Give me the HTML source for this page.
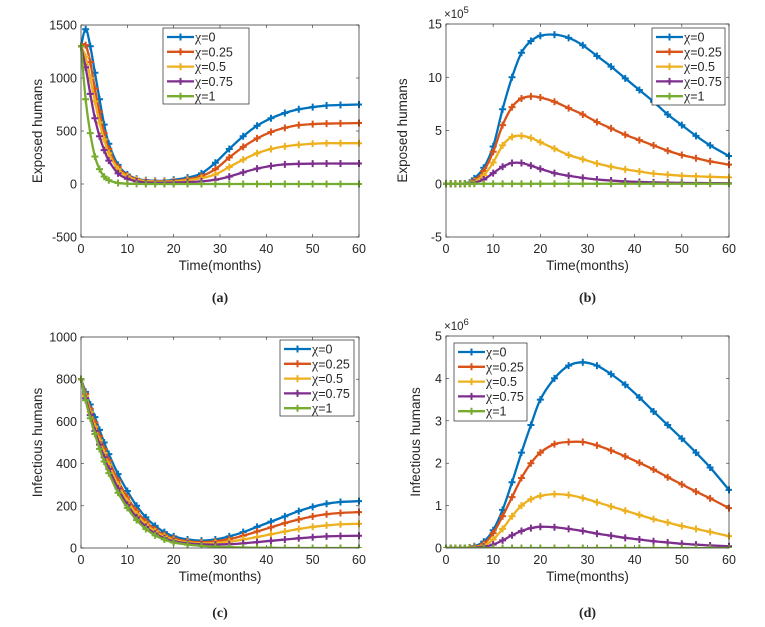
<!DOCTYPE html>
<html><head><meta charset="utf-8">
<style>
body{margin:0;background:#fff;width:765px;height:622px;overflow:hidden}
svg text{font-family:"Liberation Sans",sans-serif;fill:#262626}
</style></head>
<body>
<svg id="fig" width="765" height="622" xmlns="http://www.w3.org/2000/svg"></svg>
<script>
const times=[0,1,2,3,4,5,6,8,10,12,14,16,18,20,23,26,29,32,35,38,41,44,47,50,53,56,60];
const seriesLabels=["χ=0","χ=0.25","χ=0.5","χ=0.75","χ=1"];
const colors=["#0072BD","#D95319","#EDB120","#7E2F8E","#77AC30"];
// Panel a: Exposed humans
const aX0=[1300,1460,1300,1050,800,560,380,180,90,50,35,30,30,40,60,100,200,330,450,550,620,670,705,725,740,745,750];
const aX25=[1300,1310,1150,900,680,480,330,160,80,45,30,25,25,30,45,75,140,250,350,430,490,530,555,565,570,572,575];
const aX50=[1300,1200,1000,780,580,420,290,140,70,40,28,22,22,25,35,55,90,160,230,290,330,355,370,380,385,385,385];
const aX75=[1300,1100,850,620,450,320,220,100,50,25,15,12,12,14,18,25,40,70,110,145,170,185,190,192,193,193,193];
const aX100=[1300,800,480,260,140,70,35,10,3,1,0,0,0,0,0,0,0,0,0,0,0,0,0,0,0,0,0];
// Panel b: Exposed humans (x1e5)
const bX0=[0,0,0,0,0,0.1,0.5,1.5,3.5,7,10,12.3,13.4,13.9,14,13.7,13,12,11,9.9,8.8,7.7,6.5,5.5,4.5,3.6,2.6];
const bX25=[0,0,0,0,0,0.05,0.3,1.2,3,5.5,7.2,8,8.2,8.1,7.7,7.1,6.5,5.8,5.2,4.6,4.1,3.6,3.1,2.7,2.4,2.1,1.8];
const bX50=[0,0,0,0,0,0.03,0.2,0.8,2,3.6,4.4,4.5,4.3,3.9,3.3,2.7,2.3,1.9,1.6,1.35,1.15,0.95,0.85,0.75,0.7,0.65,0.6];
const bX75=[0,0,0,0,0,0.02,0.1,0.4,1,1.6,1.95,1.95,1.7,1.4,1,0.75,0.55,0.4,0.3,0.22,0.17,0.13,0.1,0.08,0.07,0.06,0.05];
const bX100=[0,0,0,0,0,0,0,0,0,0,0,0,0,0,0,0,0,0,0,0,0,0,0,0,0,0,0];
// Panel c: Infectious humans
const cX0=[800,740,680,620,560,500,445,350,270,200,145,105,75,55,40,35,40,55,75,100,125,150,175,195,210,218,222];
const cX25=[800,730,660,595,530,470,415,320,240,175,125,88,62,45,32,28,32,42,58,78,98,118,135,150,160,166,170];
const cX50=[800,720,645,575,510,450,395,300,222,160,112,78,55,38,27,22,24,30,40,52,65,78,90,100,107,112,115];
const cX75=[800,710,630,555,490,430,375,282,205,145,100,68,46,32,22,17,16,18,22,28,34,40,46,51,55,57,58];
const cX100=[800,700,615,540,470,410,355,262,190,132,90,60,40,26,16,10,6,4,2,1,1,0,0,0,0,0,0];
// Panel d: Infectious humans (x1e6)
const dX0=[0,0,0,0,0,0.01,0.04,0.15,0.42,0.9,1.55,2.25,2.9,3.5,4,4.3,4.38,4.3,4.1,3.85,3.55,3.22,2.9,2.58,2.25,1.9,1.37];
const dX25=[0,0,0,0,0,0.01,0.03,0.1,0.35,0.75,1.2,1.65,2,2.25,2.45,2.5,2.5,2.42,2.3,2.16,2.01,1.85,1.67,1.5,1.33,1.17,0.94];
const dX50=[0,0,0,0,0,0,0.02,0.06,0.2,0.45,0.75,1,1.15,1.23,1.27,1.25,1.18,1.08,0.98,0.88,0.78,0.68,0.6,0.52,0.45,0.38,0.28];
const dX75=[0,0,0,0,0,0,0.01,0.03,0.08,0.18,0.3,0.4,0.47,0.5,0.49,0.45,0.4,0.34,0.29,0.24,0.2,0.16,0.13,0.1,0.08,0.06,0.04];
const dX100=[0,0,0,0,0,0,0,0,0,0,0,0,0,0,0,0,0,0,0,0,0,0,0,0,0,0,0];
const xTicks=[0,10,20,30,40,50,60];
const aTicks=[-500,0,500,1000,1500];
const bTicks=[-5,0,5,10,15];
const cTicks=[0,200,400,600,800,1000];
const dTicks=[0,1,2,3,4,5];

const NS="http://www.w3.org/2000/svg";
const svg=document.getElementById('fig');
function mk(tag,attrs,parent){const e=document.createElementNS(NS,tag);for(const k in attrs)e.setAttribute(k,attrs[k]);(parent||svg).appendChild(e);return e;}

function panel(cfg){
  const g=mk('g',{});
  
  
  const {L,R,T,B,ymin,ymax}=cfg;
  const sx=v=>L+(v-0)/(60-0)*(R-L);
  const sy=v=>B-(v-ymin)/(ymax-ymin)*(B-T);
  const clip='clip-'+cfg.id;
  const cp=mk('clipPath',{id:clip},g);mk('rect',{x:L-3,y:T,width:R-L+6,height:B-T},cp);
  xTicks.forEach(t=>{
    mk('line',{x1:sx(t),x2:sx(t),y1:B,y2:B-3,stroke:'#262626','stroke-width':0.6},g);
    mk('line',{x1:sx(t),x2:sx(t),y1:T,y2:T+3,stroke:'#262626','stroke-width':0.6},g);
    const tx=mk('text',{x:sx(t),y:B+16,'font-size':12.5,'text-anchor':'middle'},g);tx.textContent=t;
    
    
  });
  cfg.ticks.forEach(t=>{
    mk('line',{x1:L,x2:L+3,y1:sy(t),y2:sy(t),stroke:'#262626','stroke-width':0.6},g);
    mk('line',{x1:R,x2:R-3,y1:sy(t),y2:sy(t),stroke:'#262626','stroke-width':0.6},g);
    const tx=mk('text',{x:L-4,y:sy(t)+4.5,'font-size':12.5,'text-anchor':'end'},g);tx.textContent=t;
    
    
  });
  cfg.series.forEach((arr,i)=>{
    const sg=mk('g',{'clip-path':'url(#'+clip+')'},g);
    
    
    const pts=times.map((t,j)=>[sx(t),sy(arr[j])]);
    let d='M'+pts[0][0]+','+pts[0][1];
    for(let j=0;j<pts.length-1;j++){
      const p0=pts[j-1]||pts[j],p1=pts[j],p2=pts[j+1],p3=pts[j+2]||p2;
      const c1=[p1[0]+(p2[0]-p0[0])/6,p1[1]+(p2[1]-p0[1])/6];
      const c2=[p2[0]-(p3[0]-p1[0])/6,p2[1]-(p3[1]-p1[1])/6];
      d+=`C${c1[0]},${c1[1]} ${c2[0]},${c2[1]} ${p2[0]},${p2[1]}`;
    }
    mk('path',{d:d,fill:'none',stroke:colors[i],'stroke-width':2.3},sg);
    pts.forEach(p=>{
      mk('path',{d:`M${p[0]-3.5},${p[1]}h7M${p[0]},${p[1]-3.5}v7`,stroke:colors[i],'stroke-width':2},sg);
    });
  });
  const box=mk('rect',{x:L,y:T,width:R-L,height:B-T,fill:'none',stroke:'#262626','stroke-width':0.7},g);
  
  
  const xl=mk('text',{x:(L+R)/2,y:B+33,'font-size':13.5,'text-anchor':'middle'},g);xl.textContent='Time(months)';
  
  
  const ylx=cfg.ylx, yly=(T+B)/2;
  const yl=mk('text',{x:ylx,y:yly,'font-size':13.5,'text-anchor':'middle',transform:`rotate(-90 ${ylx} ${yly})`},g);yl.textContent=cfg.ylabel;
  
  
  if(cfg.exp){
    const e=mk('text',{x:L-2,y:T-6,'font-size':11.5,'text-anchor':'start'},g);
    e.innerHTML='×10<tspan dy="-5" font-size="9.5">'+cfg.exp+'</tspan>';
    
    
  }
  const cap=mk('text',{x:(L+R)/2,y:cfg.capY,'font-size':14,'font-weight':'bold','text-anchor':'middle',style:'font-family:"Liberation Serif",serif'},g);
  cap.textContent=cfg.caption;
  
  
  const lg=mk('g',{},g);
  
  
  const [lx,ly,lw,lh]=cfg.legend;
  mk('rect',{x:lx,y:ly,width:lw,height:lh,fill:'#fff',stroke:'#262626','stroke-width':0.7},lg);
  seriesLabels.forEach((s,i)=>{
    const ey=ly+9+i*14.8;
    const en=mk('g',{},lg);
    
    
    mk('line',{x1:lx+4,x2:lx+31,y1:ey,y2:ey,stroke:colors[i],'stroke-width':2.3},en);
    mk('path',{d:`M${lx+14},${ey}h7M${lx+17.5},${ey-3.5}v7`,stroke:colors[i],'stroke-width':2},en);
    const t=mk('text',{x:lx+32,y:ey+4.5,'font-size':12.5},en);
    t.innerHTML='<tspan style="font-family:\'Liberation Serif\',serif;font-size:14px">χ</tspan>'+s.slice(1);
  });
}
panel({id:'a',name:'panel-a',L:81,R:359,T:25,B:237,ymin:-500,ymax:1500,ticks:aTicks,ylx:42,ylabel:'Exposed humans',caption:'(a)',capY:302,legend:[163,28,86,76],
  series:[aX0,aX25,aX50,aX75,aX100]});
panel({id:'b',name:'panel-b',L:446,R:729,T:24,B:237,ymin:-5,ymax:15,ticks:bTicks,ylx:407,ylabel:'Exposed humans',caption:'(b)',capY:302,legend:[652,28,73,77],exp:'5',
  series:[bX0,bX25,bX50,bX75,bX100]});
panel({id:'c',name:'panel-c',L:81,R:359,T:337,B:548,ymin:0,ymax:1000,ticks:cTicks,ylx:42,ylabel:'Infectious humans',caption:'(c)',capY:617,legend:[280,340,74,76],
  series:[cX0,cX25,cX50,cX75,cX100]});
panel({id:'d',name:'panel-d',L:446,R:729,T:336,B:548,ymin:0,ymax:5,ticks:dTicks,ylx:420,ylabel:'Infectious humans',caption:'(d)',capY:617,legend:[454,343,73,78],exp:'6',
  series:[dX0,dX25,dX50,dX75,dX100]});
</script>
</body></html>
